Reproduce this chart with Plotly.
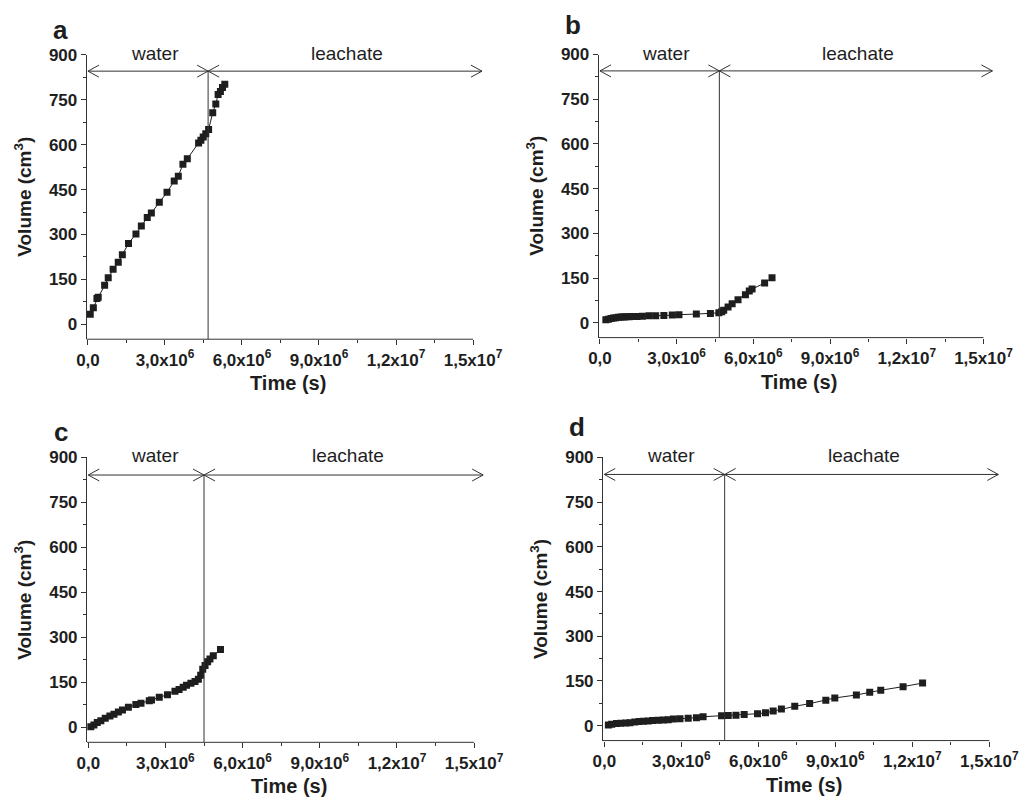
import plotly.graph_objects as go

# ---------------- data (time in s, volume in cm3) ----------------
time_a = [0.09e6, 0.21e6, 0.35e6, 0.40e6, 0.65e6, 0.79e6, 0.98e6, 1.18e6, 1.34e6, 1.58e6,
          1.87e6, 2.08e6, 2.31e6, 2.47e6, 2.78e6, 3.08e6, 3.36e6, 3.52e6, 3.70e6, 3.87e6,
          4.31e6, 4.40e6, 4.49e6, 4.59e6, 4.70e6, 4.86e6, 4.98e6, 5.07e6, 5.16e6, 5.24e6, 5.33e6]
vol_a = [33, 55, 86, 90, 130, 155, 184, 207, 232, 270,
         302, 328, 357, 372, 408, 441, 479, 495, 535, 553,
         606, 615, 626, 637, 651, 707, 736, 768, 778, 791, 802]

time_b = [0.23e6, 0.33e6, 0.43e6, 0.53e6, 0.62e6, 0.72e6, 0.82e6, 0.92e6, 1.01e6, 1.14e6,
          1.27e6, 1.45e6, 1.66e6, 1.92e6, 2.18e6, 2.50e6, 2.83e6, 3.09e6, 3.77e6, 4.32e6,
          4.65e6, 4.76e6, 4.84e6, 5.01e6, 5.17e6, 5.40e6, 5.69e6, 5.84e6, 5.95e6, 6.44e6, 6.73e6]
vol_b = [10, 12, 14, 15.5, 17, 18, 19, 19.5, 20, 20,
         20.5, 21, 21.5, 23, 23.5, 24, 26, 27, 29, 31,
         33, 37, 42, 53, 64, 77, 94, 106, 113, 133, 151]

time_c = [0.10e6, 0.22e6, 0.35e6, 0.49e6, 0.66e6, 0.84e6, 1.00e6, 1.17e6, 1.33e6, 1.56e6,
          1.85e6, 2.05e6, 2.37e6, 2.46e6, 2.76e6, 3.08e6, 3.37e6, 3.53e6, 3.69e6, 3.82e6,
          3.99e6, 4.15e6, 4.28e6, 4.37e6, 4.45e6, 4.54e6, 4.64e6, 4.73e6, 4.86e6, 5.14e6]
vol_c = [2, 8, 16, 22, 30, 38, 44, 51, 58, 67,
         76, 80, 89, 91, 100, 109, 120, 126, 134, 140,
         147, 153, 160, 174, 194, 206, 219, 228, 239, 259]

time_d = [0.16e6, 0.29e6, 0.48e6, 0.64e6, 0.84e6, 1.00e6, 1.19e6, 1.36e6, 1.52e6, 1.71e6,
          1.88e6, 2.10e6, 2.30e6, 2.49e6, 2.69e6, 2.95e6, 3.27e6, 3.59e6, 3.85e6, 4.57e6,
          4.83e6, 5.13e6, 5.45e6, 5.97e6, 6.28e6, 6.58e6, 6.90e6, 7.42e6, 8.00e6, 8.63e6,
          8.98e6, 9.82e6, 10.34e6, 10.77e6, 11.64e6, 12.40e6]
vol_d = [2, 5, 7, 8, 9, 10, 12.5, 14, 15, 16,
         17, 18, 19, 20, 22, 23, 25, 27, 30, 33,
         34, 35, 37.5, 40, 43, 49, 56, 65, 74, 85,
         93, 103, 112, 119, 131, 143]

panel_letters = ["a", "b", "c", "d"]
switch_times = [4.68e6, 4.67e6, 4.50e6, 4.69e6]   # water -> leachate
arrow_levels = [846, 845, 841, 843]
region_labels = ["water", "leachate"]
region_label_x = [2.6e6, 10.1e6]

x_tickvals = [0, 3e6, 6e6, 9e6, 1.2e7, 1.5e7]
x_ticktext = ["0,0", "3,0x10<sup>6</sup>", "6,0x10<sup>6</sup>", "9,0x10<sup>6</sup>",
              "1,2x10<sup>7</sup>", "1,5x10<sup>7</sup>"]
x_minor = [1.5e6, 4.5e6, 7.5e6, 10.5e6, 13.5e6]
y_tickvals = [0, 150, 300, 450, 600, 750, 900]
y_minor = [75, 225, 375, 525, 675, 825]

# ---------------- layout constants ----------------
X_MIN, X_MAX = -0.05e6, 15.4e6
X_AXIS_END = 1.5e7
ARROW_END = 15.35e6
Y_MIN, Y_MAX = -50, 900

x_domains = [[0.0848, 0.4729], [0.5858, 0.9723], [0.0851, 0.4740], [0.5900, 0.9781]]
y_domains = [[0.5744, 0.9310], [0.5764, 0.9316], [0.0686, 0.4262], [0.0708, 0.4260]]
letter_shift = [25, 30, 25, 30]

FONT = "Liberation Sans, Arial, Helvetica, sans-serif"
INK = "#1e1e1e"
AXC = "#333333"

series = [(time_a, vol_a), (time_b, vol_b), (time_c, vol_c), (time_d, vol_d)]

fig = go.Figure()
shapes = []
annotations = []
layout = dict(template="none", width=1022, height=797,
              margin=dict(l=0, r=0, t=0, b=0, pad=0, autoexpand=False),
              paper_bgcolor="white", plot_bgcolor="white", showlegend=False,
              font=dict(family=FONT, color=INK))

for i, (tx, vy) in enumerate(series):
    n = "" if i == 0 else str(i + 1)
    xa, ya = "x" + n, "y" + n
    fig.add_trace(go.Scatter(
        x=tx, y=vy, xaxis=xa, yaxis=ya, mode="lines+markers",
        line=dict(color=INK, width=1),
        marker=dict(symbol="square", size=7, color=INK, line=dict(width=0)),
        hoverinfo="skip"))

    layout["xaxis" + n] = dict(
        domain=x_domains[i], range=[X_MIN, X_MAX], anchor=ya, automargin=False,
        showline=False, showgrid=False, zeroline=False,
        tickmode="array", tickvals=x_tickvals, ticktext=x_ticktext,
        ticks="outside", ticklen=5, tickwidth=1, tickcolor=AXC,
        tickfont=dict(family=FONT, size=17, color=INK, weight="bold"),
        minor=dict(tickvals=x_minor, ticks="outside", ticklen=3, tickwidth=1, tickcolor=AXC),
        fixedrange=True)
    layout["yaxis" + n] = dict(
        domain=y_domains[i], range=[Y_MIN, Y_MAX], anchor=xa, automargin=False,
        showline=True, linecolor=AXC, linewidth=1,
        showgrid=False, zeroline=False,
        tickmode="array", tickvals=y_tickvals, ticktext=[str(v) for v in y_tickvals],
        ticks="outside", ticklen=5, tickwidth=1, tickcolor=AXC,
        tickfont=dict(family=FONT, size=17, color=INK, weight="bold"),
        minor=dict(tickvals=y_minor, ticks="outside", ticklen=3, tickwidth=1, tickcolor=AXC),
        fixedrange=True)

    line_style = dict(color=AXC, width=1)
    # bottom axis line ending at 1.5x10^7
    shapes.append(dict(type="line", xref=xa + " domain", yref=ya + " domain",
                       x0=0, x1=(X_AXIS_END - X_MIN) / (X_MAX - X_MIN), y0=0, y1=0,
                       line=line_style))
    sw, lev = switch_times[i], arrow_levels[i]
    # vertical separator
    shapes.append(dict(type="line", xref=xa, yref=ya, x0=sw, x1=sw, y0=Y_MIN, y1=lev,
                       line=line_style))
    # horizontal arrows
    shapes.append(dict(type="line", xref=xa, yref=ya, x0=0, x1=sw, y0=lev, y1=lev,
                       line=line_style))
    shapes.append(dict(type="line", xref=xa, yref=ya, x0=sw, x1=ARROW_END, y0=lev, y1=lev,
                       line=line_style))
    left_head = "M 11,6 L 0,0 L 11,-6"
    right_head = "M -11,6 L 0,0 L -11,-6"
    for anchor, head in [(0, left_head), (sw, right_head), (sw, left_head), (ARROW_END, right_head)]:
        shapes.append(dict(type="path", xref=xa, yref=ya, xsizemode="pixel", ysizemode="pixel",
                           xanchor=anchor, yanchor=lev, path=head, line=line_style))

    # region labels
    for lab, lx in zip(region_labels, region_label_x):
        annotations.append(dict(text=lab, xref=xa, yref=ya + " domain", x=lx, y=1,
                                yshift=1.5, xanchor="center", yanchor="middle",
                                showarrow=False, font=dict(family=FONT, size=19, color=INK)))
    # panel letter
    annotations.append(dict(text="<b>%s</b>" % panel_letters[i], xref=xa + " domain",
                            yref=ya + " domain", x=0, y=1, xshift=-26, yshift=letter_shift[i],
                            xanchor="center", yanchor="middle", showarrow=False,
                            font=dict(family=FONT, size=26, color=INK)))
    # axis titles
    annotations.append(dict(text="<b>Volume (cm<sup>3</sup>)</b>", xref=xa + " domain",
                            yref=ya + " domain", x=0, y=0.5, xshift=-64, textangle=-90,
                            xanchor="center", yanchor="middle", showarrow=False,
                            font=dict(family=FONT, size=19, color=INK)))
    annotations.append(dict(text="<b>Time (s)</b>", xref=xa + " domain",
                            yref=ya + " domain", x=0.5076, y=0, yshift=-44,
                            xanchor="center", yanchor="middle", showarrow=False,
                            font=dict(family=FONT, size=20, color=INK)))

layout["shapes"] = shapes
layout["annotations"] = annotations
fig.update_layout(**layout)
fig.write_html("out.html", config={"displayModeBar": False, "staticPlot": True},
               post_script="document.body.style.margin='0px';document.body.style.overflow='hidden';")
